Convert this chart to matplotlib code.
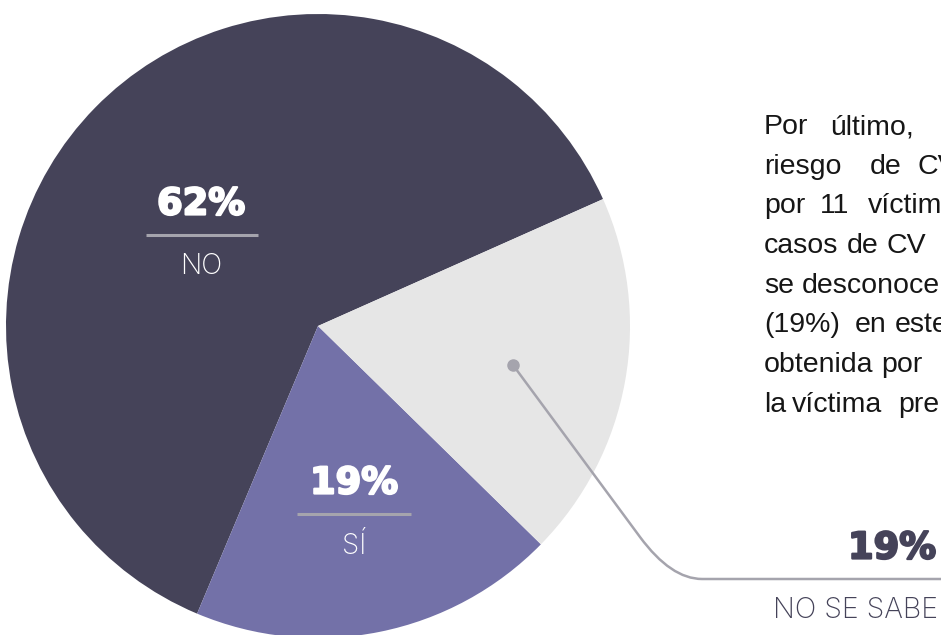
import matplotlib
matplotlib.use("Agg")
import matplotlib.pyplot as plt
import matplotlib.patheffects as pe
from matplotlib.path import Path
from matplotlib.patches import PathPatch

# data
labels = ["NO", "SÍ", "NO SE SABE"]
values = [62, 19, 19]
colors = ["#454359", "#7371a8", "#e6e6e6"]

# justified paragraph, cut off at the right edge in the original
para_lines = [
    [("Por", 764), ("último,", 830)],
    [("riesgo", 764), ("de", 870), ("CV", 918)],
    [("por", 764), ("11", 820), ("víctimas", 868)],
    [("casos", 764), ("de", 847), ("CV", 887)],
    [("se", 764), ("desconoce", 802)],
    [("(19%)", 764), ("en", 855), ("este", 895)],
    [("obtenida", 764), ("por", 881)],
    [("la", 764), ("víctima", 792), ("pre", 898)],
]

W, H = 941, 635
DARK = "#454359"
LINE = "#a5a4ad"

fig = plt.figure(figsize=(W / 100, H / 100), dpi=100)
ax = fig.add_axes([0, 0, 1, 1])

ax.pie(values, colors=colors, startangle=-24, counterclock=False,
       center=(318, 326), radius=312, wedgeprops=dict(linewidth=0))
ax.set_xlim(0, W)
ax.set_ylim(H, 0)
ax.set_aspect("auto")
ax.axis("off")


def big(x, y, s, color, ha):
    ax.text(x, y, s, ha=ha, va="center", color=color, fontsize=26.5,
            fontweight="bold", family="DejaVu Sans",
            path_effects=[pe.withStroke(linewidth=1.6, foreground=color)])


# in-slice labels
inner = [(0, 201, 204, 146, 258), (1, 354, 483, 297, 411)]
for i, cx, cy, x0, x1 in inner:
    big(cx, cy, f"{values[i]}%", "white", "center")
    ax.plot([x0, x1], [cy + 31, cy + 31], color=LINE, lw=2.2, solid_capstyle="butt")
    ax.text(cx, cy + 63, labels[i], ha="center", va="center", color="white",
            fontsize=20, fontweight="light", family="Inter")

# leader to outside label
verts = [(513, 365), (640, 537), (671, 579), (702, 579), (W + 5, 579)]
codes = [Path.MOVETO, Path.LINETO, Path.CURVE3, Path.CURVE3, Path.LINETO]
ax.add_patch(PathPatch(Path(verts, codes), fill=False, edgecolor=LINE, lw=1.8))
ax.plot([513], [365], "o", color=LINE, ms=8)
big(848, 548, f"{values[2]}%", DARK, "left")
ax.text(773, 610, labels[2], ha="left", va="center", color=DARK,
        fontsize=20.5, fontweight="light", family="Inter")

# paragraph
for k, words in enumerate(para_lines):
    y = 134 + k * 39.7
    for w, x in words:
        ax.text(x, y, w, ha="left", va="baseline", color="#161616",
                fontsize=20.5, family="Liberation Sans")

fig.savefig("out.png", dpi=100)
